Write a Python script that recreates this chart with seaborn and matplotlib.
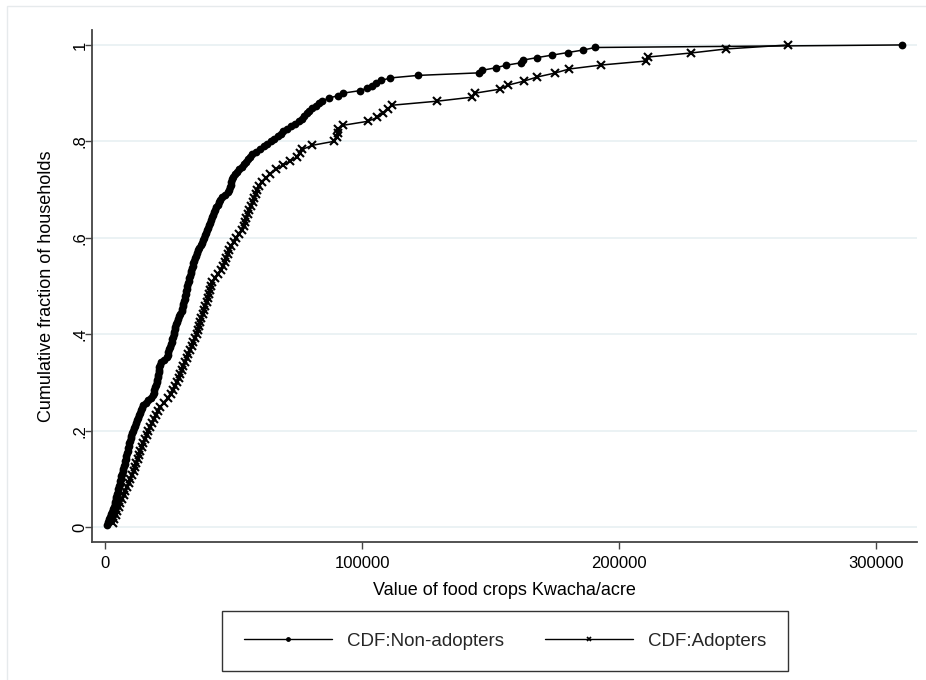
import numpy as np
import pandas as pd
import matplotlib
matplotlib.use("Agg")
import matplotlib.pyplot as plt
import seaborn as sns
from matplotlib.lines import Line2D
from matplotlib.patches import Rectangle

# Sorted household values (thousand Kwacha/acre)
non_adopters_k = [
    0.8, 1.2, 1.6, 2.0, 2.4, 2.9, 3.2,
    3.4, 3.7, 3.9, 4.2, 4.4, 4.7, 4.9,
    5.2, 5.4, 5.7, 5.9, 6.2, 6.4, 6.7, 6.9,
    7.1, 7.4, 7.6, 7.9, 8.1, 8.3, 8.6, 8.8,
    9.0, 9.3, 9.5, 9.8, 10.0, 10.2, 10.5,
    10.8, 11.2, 11.6, 12.0, 12.3, 12.7,
    13.1, 13.5, 13.9, 14.3, 14.8,
    15.8, 16.9, 17.9,
    18.5, 18.9, 19.2, 19.6, 19.9,
    20.3, 20.4, 20.6, 20.7, 20.9, 21.0, 21.2, 21.3,
    21.8, 23.0,
    24.1, 24.4, 24.7, 25.0, 25.3, 25.6, 25.9,
    26.2, 26.4, 26.7, 26.9, 27.1, 27.4, 27.6, 27.9,
    28.3, 28.8, 29.3, 29.8,
    30.1, 30.3, 30.5, 30.7, 31.0,
    31.2, 31.4, 31.6, 31.8, 32.0, 32.3,
    32.5, 32.8, 33.0, 33.3, 33.6, 33.8,
    34.1, 34.4, 34.8, 35.1, 35.5,
    35.8, 36.3, 36.7, 37.2, 37.6, 38.1,
    38.5, 38.9, 39.3, 39.7, 40.1, 40.5,
    41.0, 41.3, 41.7, 42.1, 42.4,
    42.8, 43.3, 43.8, 44.4, 44.9, 45.4,
    46.8,
    48.0, 48.3, 48.6, 48.9, 49.2, 49.5, 49.8,
    50.6, 51.4,
    52.3, 53.2, 54.1,
    55.0, 55.7, 56.5, 57.3,
    58.6, 60.3,
    61.8, 63.2, 64.5, 65.9,
    67.3, 68.4, 69.4,
    70.7, 72.4,
    74.0, 75.3, 76.6,
    77.6, 78.5, 79.5,
    80.6, 81.9, 83.1, 84.4,
    87.0, 90.5, 92.6, 99.2,
    102.0, 104.0, 105.5, 107.5, 111.0, 121.8,
    145.5, 146.7, 152.0, 156.0, 162.0, 162.5, 168.0, 174.0, 180.0, 186.0,
    190.7, 310.0,
]

adopters_k = [
    3.1, 3.6, 4.2, 4.7, 5.3, 5.8,
    6.5, 7.2, 7.9, 8.6,
    9.3, 9.9, 10.5, 11.2,
    11.8, 12.2, 12.7, 13.1, 13.5,
    14.2, 14.8, 15.5, 16.2, 16.9,
    17.6, 18.4, 19.2, 19.9, 20.7,
    21.5, 23.0, 24.6,
    25.8, 26.6, 27.3,
    28.1, 28.7, 29.3, 29.9,
    30.5, 31.1, 31.8, 32.4, 33.0,
    33.7, 34.4, 35.0, 35.7,
    36.1, 36.6, 37.0, 37.5,
    38.0, 38.5, 39.0, 39.5,
    39.9, 40.4, 40.8, 41.3, 41.8,
    42.7, 43.9, 45.1,
    46.1, 46.6, 47.1, 47.7,
    48.3, 49.2, 50.1, 51.1,
    52.2, 53.3,
    54.0, 54.5, 55.0, 55.5,
    56.1, 56.8, 57.4,
    57.9, 58.6, 59.2, 59.8,
    60.9, 62.6, 64.3,
    66.7, 69.4, 71.9, 74.7, 76.0, 76.8, 80.5, 89.0,
    90.2, 90.5, 90.8, 92.6,
    102.3, 106.0, 108.0, 110.0, 111.7, 129.2,
    142.8, 144.0, 153.7, 156.8, 163.0, 168.0, 175.0, 180.5, 193.0, 210.5,
    211.3, 228.0, 241.6, 265.8,
]

series_labels = ["CDF:Non-adopters", "CDF:Adopters"]
x_ticks = [0, 100000, 200000, 300000]
x_tick_labels = ["0", "100000", "200000", "300000"]
y_ticks = [0, 0.2, 0.4, 0.6, 0.8, 1.0]
y_tick_labels = ["0", ".2", ".4", ".6", ".8", "1"]


def ecdf_frame(values_k):
    v = np.sort(np.asarray(values_k) * 1000.0)
    n = len(v)
    return pd.DataFrame({"value": v, "cdf": np.arange(1, n + 1) / n})


df_non = ecdf_frame(non_adopters_k)
df_ad = ecdf_frame(adopters_k)

sns.set_theme(style="white")
plt.rcParams["font.family"] = ["Liberation Sans", "DejaVu Sans"]

fig = plt.figure(figsize=(9.26, 6.8), dpi=100)
fig.patch.set_facecolor("white")
ax = fig.add_axes([92 / 926, 138 / 680, (917 - 92) / 926, (650 - 138) / 680])

# light frame around graph region
fig.add_artist(Rectangle((7 / 926, -0.05), 1.2, (674 + 34) / 680, transform=fig.transFigure,
                         fill=False, edgecolor="#e6eaec", linewidth=1.0, zorder=0))

for yt in y_ticks:
    ax.axhline(yt, color="#e8f0f2", linewidth=1.2, zorder=0)

sns.lineplot(data=df_non, x="value", y="cdf", ax=ax, color="black", linewidth=1.1,
             marker="o", markersize=5.6, markeredgewidth=0, estimator=None, sort=False,
             label=series_labels[0], legend=False)
sns.lineplot(data=df_ad, x="value", y="cdf", ax=ax, color="black", linewidth=1.1,
             marker="x", markersize=5.2, markeredgewidth=1.5, markeredgecolor="black",
             estimator=None, sort=False, label=series_labels[1], legend=False)

ax.set_xlim(-5058, 315900)
ax.set_ylim(-0.031, 1.031)
ax.set_xticks(x_ticks)
ax.set_xticklabels(x_tick_labels)
ax.set_yticks(y_ticks)
ax.set_yticklabels(y_tick_labels, rotation=90, va="center", ha="center")

for s in ["top", "right"]:
    ax.spines[s].set_visible(False)
for s in ["left", "bottom"]:
    ax.spines[s].set_color("#444444")
    ax.spines[s].set_linewidth(1.3)

ax.tick_params(axis="both", which="major", length=5, width=1.0, color="#444444",
               labelsize=12, labelcolor="black", direction="out")
ax.tick_params(axis="x", bottom=True, pad=5)
ax.tick_params(axis="y", left=True, pad=3.5)

ax.set_xlabel("Value of food crops Kwacha/acre", fontsize=13, labelpad=8, color="black")
ax.set_ylabel("Cumulative fraction of households", fontsize=13, labelpad=13, color="black")

handles = [
    Line2D([0], [0], color="black", linewidth=1.0, marker="o", markersize=3.5, markeredgewidth=0),
    Line2D([0], [0], color="black", linewidth=1.0, marker="x", markersize=3.5, markeredgewidth=1.2),
]
leg = fig.legend(handles, series_labels, loc="center", bbox_to_anchor=(505 / 926, 1 - 641 / 680),
                 ncol=2, frameon=True, fancybox=False, edgecolor="black", fontsize=13.5,
                 handlelength=4.7, handletextpad=0.8, columnspacing=2.2, borderpad=1.15,
                 numpoints=1)
leg.get_frame().set_linewidth(1.0)

fig.savefig("out.png", dpi=100, facecolor="white")
